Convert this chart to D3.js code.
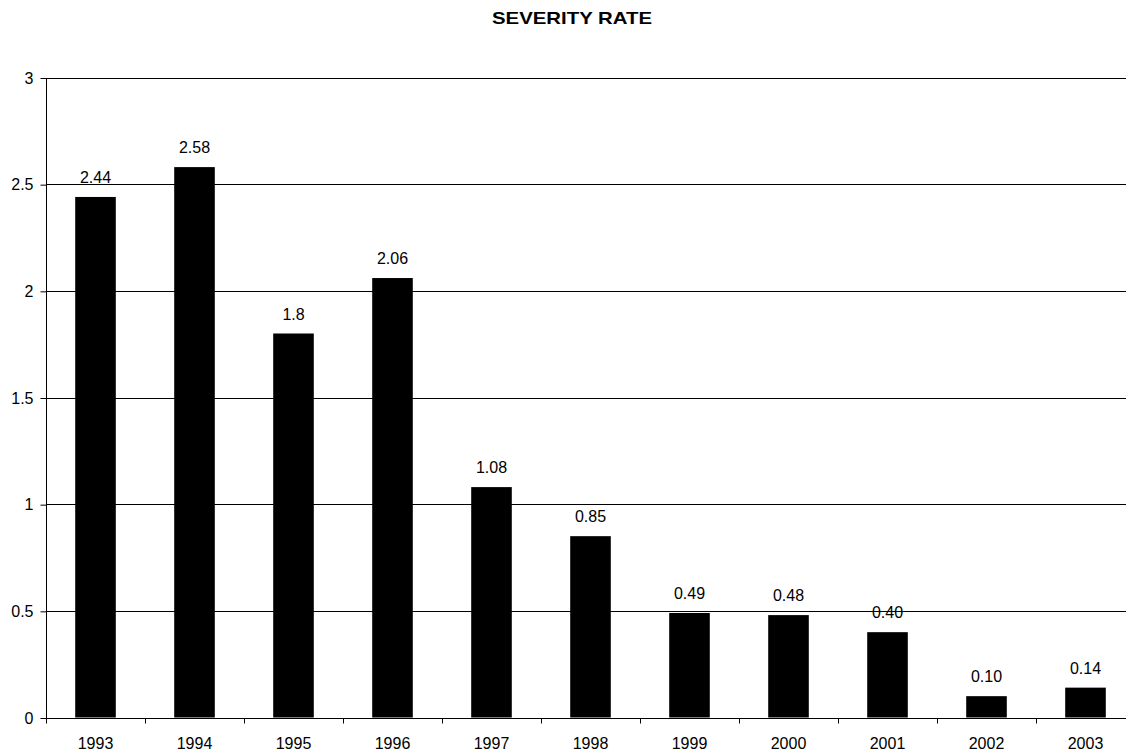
<!DOCTYPE html>
<html>
<head>
<meta charset="utf-8">
<script src="https://cdn.jsdelivr.net/npm/d3@7"></script>
<style>
  html, body { margin: 0; padding: 0; background: #fff; }
  svg { display: block; font-family: "Liberation Sans", Arial, sans-serif; }
</style>
</head>
<body>
<svg id="chart" width="1126" height="752"></svg>
<script>
// Severity rate per year
const years = ["1993", "1994", "1995", "1996", "1997", "1998", "1999", "2000", "2001", "2002", "2003"];
const rates = [2.44, 2.58, 1.8, 2.06, 1.08, 0.85, 0.49, 0.48, 0.40, 0.10, 0.14];
const rateLabels = ["2.44", "2.58", "1.8", "2.06", "1.08", "0.85", "0.49", "0.48", "0.40", "0.10", "0.14"];
const yTicks = [0, 0.5, 1, 1.5, 2, 2.5, 3];
const title = "SEVERITY RATE";

const svg = d3.select("#chart");
const plotLeft = 46, plotTop = 77.5, plotBottom = 717.5, band = 99;
const plotRight = plotLeft + band * years.length;
const fontSize = 16;

const x = d3.scaleBand().domain(years).range([plotLeft, plotRight]).paddingInner(0.59).paddingOuter(0.295);
const y = d3.scaleLinear().domain([0, 3]).range([plotBottom, plotTop]);

// title
svg.append("text")
  .attr("x", 572).attr("y", 24)
  .attr("text-anchor", "middle")
  .attr("font-size", 17).attr("font-weight", "bold")
  .attr("textLength", 160).attr("lengthAdjust", "spacingAndGlyphs")
  .text(title);

// horizontal gridlines
svg.append("g")
  .selectAll("line")
  .data(yTicks.filter(d => d > 0))
  .join("line")
  .attr("x1", plotLeft).attr("x2", 1126)
  .attr("y1", d => Math.round(y(d)) + 0.5).attr("y2", d => Math.round(y(d)) + 0.5)
  .attr("stroke", "#000").attr("stroke-width", 1);

// bars
svg.append("g")
  .selectAll("rect")
  .data(rates)
  .join("rect")
  .attr("x", (d, i) => x(years[i]))
  .attr("width", x.bandwidth())
  .attr("y", d => y(d))
  .attr("height", d => plotBottom - y(d))
  .attr("fill", "#000");

// value labels
svg.append("g")
  .selectAll("text")
  .data(rates)
  .join("text")
  .attr("x", (d, i) => x(years[i]) + x.bandwidth() / 2)
  .attr("y", d => y(d) - 14)
  .attr("text-anchor", "middle")
  .attr("font-size", fontSize)
  .text((d, i) => rateLabels[i]);

// y axis
const yAxis = d3.axisLeft(y).tickValues(yTicks).tickFormat(d3.format("")).tickSize(6).tickPadding(7);
const gy = svg.append("g").attr("transform", `translate(${plotLeft + 0.5},0.5)`).call(yAxis);
gy.select(".domain").attr("d", `M0,${plotTop}V${plotBottom}`).attr("stroke", "#000");
gy.selectAll("text").attr("font-size", fontSize).attr("font-family", "Liberation Sans, Arial, sans-serif").attr("fill", "#000");

// x axis with tick marks between categories
const gx = svg.append("g").attr("transform", `translate(0,${Math.round(plotBottom) + 0.5})`);
gx.append("line").attr("x1", plotLeft).attr("x2", 1126).attr("stroke", "#000");
gx.selectAll("line.tick")
  .data(d3.range(years.length + 1))
  .join("line")
  .attr("class", "tick")
  .attr("x1", i => plotLeft + band * i + 0.5).attr("x2", i => plotLeft + band * i + 0.5)
  .attr("y1", 0).attr("y2", 5)
  .attr("stroke", "#000");
gx.selectAll("text")
  .data(years)
  .join("text")
  .attr("x", d => x(d) + x.bandwidth() / 2)
  .attr("y", 30)
  .attr("text-anchor", "middle")
  .attr("font-size", fontSize)
  .text(d => d);
</script>
</body>
</html>
